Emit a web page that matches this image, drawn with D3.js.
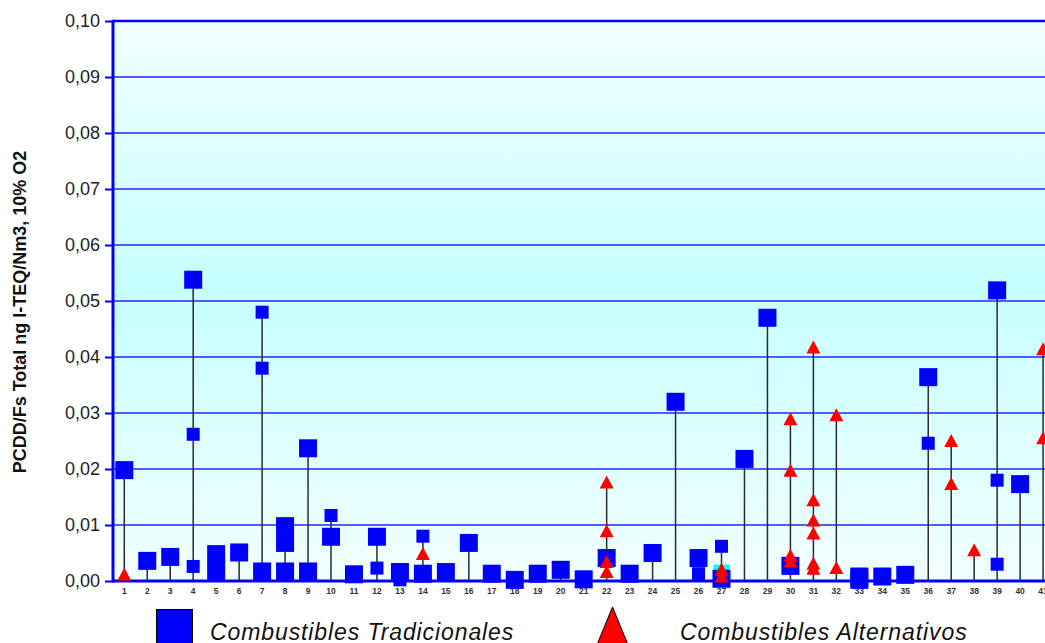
<!DOCTYPE html>
<html>
<head>
<meta charset="utf-8">
<script src="https://cdn.jsdelivr.net/npm/d3@7"></script>
<style>
  html, body { margin: 0; padding: 0; background: #ffffff; overflow: hidden; }
  svg { display: block; }
</style>
</head>
<body>
<svg id="chart" width="1045" height="643"></svg>
<script>
// ---------- DATA ----------
const categories = [1,2,3,4,5,6,7,8,9,10,11,12,13,14,15,16,17,18,19,20,21,22,23,24,25,26,27,28,29,30,31,32,33,34,35,36,37,38,39,40,41];
const yTicks = [0, 0.01, 0.02, 0.03, 0.04, 0.05, 0.06, 0.07, 0.08, 0.09, 0.10];

// Combustibles Tradicionales (large squares)
const tradBig = [
  [1,0.0198],[2,0.0036],[3,0.0043],[4,0.0538],[5,0.0048],[5,0.0018],[6,0.0051],
  [7,0.0017],[8,0.0098],[8,0.0068],[8,0.0017],[9,0.0237],[9,0.0017],[10,0.0079],
  [11,0.0012],[12,0.0079],[13,0.0016],[14,0.0013],[15,0.0016],[16,0.0068],[17,0.0013],
  [18,0.0002],[19,0.0013],[20,0.0020],[21,0.0003],[22,0.0041],[23,0.0013],[24,0.0050],
  [25,0.0320],[26,0.0041],[27,0.0004],[28,0.0218],[29,0.0470],[30,0.0027],[33,0.0008],
  [33,0.0002],[34,0.0008],[35,0.0011],[36,0.0364],[39,0.0519],[40,0.0173]
];
// Combustibles Tradicionales (small squares)
const tradSmall = [
  [4,0.0262],[4,0.0026],[7,0.0480],[7,0.0380],[10,0.0117],[12,0.0023],[13,0.0002],
  [14,0.0080],[26,0.0013],[27,0.0062],[36,0.0246],[39,0.0180],[39,0.0030]
];
// Combustibles Alternativos (triangles)
const alternativos = [
  [1,0.0011],[14,0.0048],[22,0.0176],[22,0.0089],[22,0.0034],[22,0.0016],
  [27,0.0020],[27,0.0008],[30,0.0289],[30,0.0197],[30,0.0045],[30,0.0035],
  [31,0.0417],[31,0.0144],[31,0.0108],[31,0.0085],[31,0.0031],[31,0.0022],
  [32,0.0296],[32,0.0023],[37,0.0250],[37,0.0173],[38,0.0055],[41,0.0414],[41,0.0255]
];
// extra cyan marker
const otros = [[27,0.0015]];

// ---------- LAYOUT ----------
const svg = d3.select("#chart");
const plotLeft = 112, plotTop = 21, plotBottom = 581;
const step = 22.97;
const bandStart = plotLeft + 0.8;
const plotRight = bandStart + step * categories.length;

const x = d3.scaleBand().domain(categories).range([bandStart, plotRight]).padding(0);
const y = d3.scaleLinear().domain([0, 0.10]).range([plotBottom, plotTop]);
const cx = c => x(c) + x.bandwidth() / 2;

// background gradient
const defs = svg.append("defs");
const grad = defs.append("linearGradient").attr("id", "bg").attr("x1", 0).attr("y1", 0).attr("x2", 0).attr("y2", 1);
grad.append("stop").attr("offset", "0%").attr("stop-color", "#f2ffff");
grad.append("stop").attr("offset", "48%").attr("stop-color", "#c6ffff");
grad.append("stop").attr("offset", "100%").attr("stop-color", "#f2ffff");

svg.append("rect")
  .attr("x", plotLeft).attr("y", plotTop)
  .attr("width", plotRight - plotLeft).attr("height", plotBottom - plotTop)
  .attr("fill", "url(#bg)");

// gridlines
svg.append("g").selectAll("line").data(yTicks.filter(d => d > 0)).join("line")
  .attr("x1", plotLeft).attr("x2", plotRight)
  .attr("y1", d => y(d)).attr("y2", d => y(d))
  .attr("stroke", d => d === 0.10 ? "#0000ff" : "#2424ff")
  .attr("stroke-width", d => d === 0.10 ? 2.6 : 1.7);

// y axis
const yAxis = d3.axisLeft(y).tickValues(yTicks).tickSize(7).tickPadding(5)
  .tickFormat(d => d3.format(".2f")(d).replace(".", ","));
const gy = svg.append("g").attr("transform", `translate(${plotLeft},0)`).call(yAxis);
gy.select(".domain").remove();
gy.selectAll(".tick line").attr("stroke", "#0000ff").attr("stroke-width", 2);
gy.selectAll(".tick text")
  .attr("font-family", "'Liberation Sans', Arial, sans-serif")
  .attr("font-size", 18).attr("fill", "#222");

// x axis labels
const xAxis = d3.axisBottom(x).tickSize(0).tickPadding(7);
const gx = svg.append("g").attr("transform", `translate(0,${plotBottom})`).call(xAxis);
gx.select(".domain").remove();
gx.selectAll(".tick text")
  .attr("font-family", "'Liberation Sans', Arial, sans-serif")
  .attr("font-size", 8.5).attr("font-weight", "bold").attr("fill", "#333");

// vertical drop lines
const all = tradBig.concat(tradSmall, alternativos, otros);
const maxByCat = d3.rollups(all, v => d3.max(v, d => d[1]), d => d[0]);
svg.append("g").selectAll("line").data(maxByCat).join("line")
  .attr("x1", d => cx(d[0])).attr("x2", d => cx(d[0]))
  .attr("y1", y(0)).attr("y2", d => y(d[1]))
  .attr("stroke", "#2b2b2b").attr("stroke-width", 1.5);

// axis lines
svg.append("line").attr("x1", plotLeft).attr("x2", plotRight).attr("y1", plotBottom).attr("y2", plotBottom)
  .attr("stroke", "#0000ff").attr("stroke-width", 3);
svg.append("line").attr("x1", plotLeft + 1).attr("x2", plotLeft + 1).attr("y1", plotTop - 1).attr("y2", plotBottom + 1.5)
  .attr("stroke", "#0000ff").attr("stroke-width", 3);

// markers
const sqBig = 18, sqSmall = 13;
svg.append("g").selectAll("rect").data(otros).join("rect")
  .attr("x", d => cx(d[0]) - 8).attr("y", d => y(d[1]) - 8)
  .attr("width", 16).attr("height", 16).attr("fill", "#00ffff");
svg.append("g").selectAll("rect").data(tradBig).join("rect")
  .attr("x", d => cx(d[0]) - sqBig / 2).attr("y", d => y(d[1]) - sqBig / 2)
  .attr("width", sqBig).attr("height", sqBig).attr("fill", "#0000ff");
svg.append("g").selectAll("rect").data(tradSmall).join("rect")
  .attr("x", d => cx(d[0]) - sqSmall / 2).attr("y", d => y(d[1]) - sqSmall / 2)
  .attr("width", sqSmall).attr("height", sqSmall).attr("fill", "#0000ff");
svg.append("g").selectAll("path").data(alternativos).join("path")
  .attr("d", d => {
    const px = cx(d[0]), py = y(d[1]);
    return `M${px},${py - 7}L${px + 7},${py + 6}L${px - 7},${py + 6}Z`;
  })
  .attr("fill", "#ff0000");

// y axis title
svg.append("text")
  .attr("transform", "translate(26,312) rotate(-90)")
  .attr("text-anchor", "middle")
  .attr("font-family", "'Liberation Sans', Arial, sans-serif")
  .attr("font-size", 18).attr("font-weight", "bold").attr("fill", "#111")
  .text("PCDD/Fs Total ng I-TEQ/Nm3, 10% O2");

// legend
svg.append("rect").attr("x", 156.5).attr("y", 609.5).attr("width", 36).attr("height", 40)
  .attr("fill", "#0000ff").attr("stroke", "#000").attr("stroke-width", 1);
svg.append("text").attr("x", 210).attr("y", 640)
  .attr("font-family", "'Liberation Sans', Arial, sans-serif")
  .attr("font-size", 23).attr("font-style", "italic").attr("letter-spacing", 0.9).attr("fill", "#111")
  .text("Combustibles Tradicionales");
svg.append("path").attr("d", "M612.5,607L631,652L594,652Z")
  .attr("fill", "#ff0000").attr("stroke", "#000").attr("stroke-width", 1);
svg.append("text").attr("x", 680).attr("y", 640)
  .attr("font-family", "'Liberation Sans', Arial, sans-serif")
  .attr("font-size", 23).attr("font-style", "italic").attr("letter-spacing", 0.9).attr("fill", "#111")
  .text("Combustibles Alternativos");
</script>
</body>
</html>
